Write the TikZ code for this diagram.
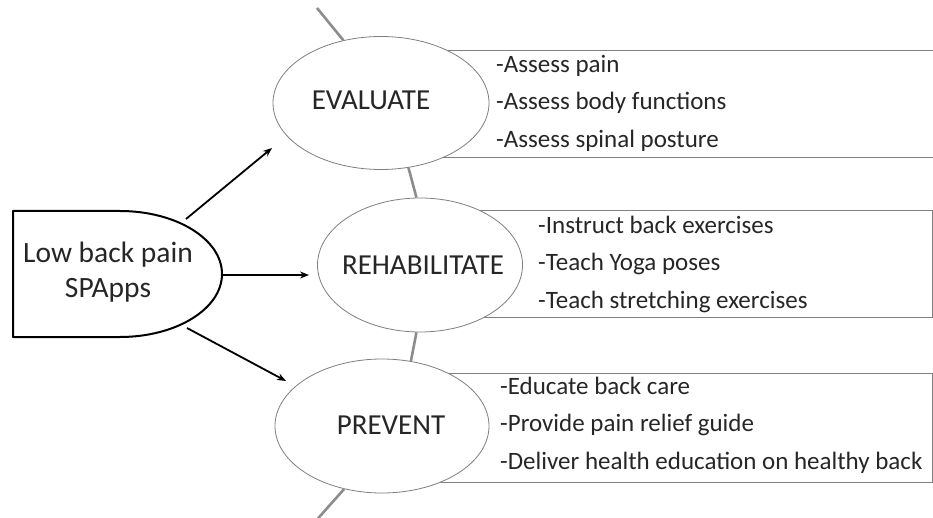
\documentclass[tikz,border=0pt]{standalone}
\usepackage{fontspec}
\setmainfont{Carlito}
\usetikzlibrary{shapes.geometric,arrows.meta}
\definecolor{txt}{HTML}{262626}
\definecolor{ringgray}{HTML}{7F7F7F}
\definecolor{spinegray}{HTML}{8C8C8C}
\definecolor{boxgray}{HTML}{808080}
\begin{document}
\begin{tikzpicture}[x=1pt,y=-1pt,
  oval/.style={ellipse,draw=ringgray,line width=0.8pt,fill=white,inner sep=0pt},
  ovaltext/.style={text=txt,font=\fontsize{29}{35}\selectfont,inner sep=0pt},
  listbox/.style={rectangle,draw=boxgray,line width=1.1pt,anchor=north west,inner sep=0pt},
  listtext/.style={text=txt,font=\fontsize{25}{37.5}\selectfont,align=left,anchor=west,inner sep=0pt},
  spine/.style={draw=spinegray,line width=2.6pt},
  arr/.style={draw=black,line width=1.8pt,-{Stealth[length=9pt,width=7pt]}}]
\useasboundingbox (0,0) rectangle (933,518);
\begin{scope}
\clip (0,0) rectangle (933,518);
% list boxes
\node[listbox,minimum width=520pt,minimum height=107pt] (evbox) at (430,50) {};
\node[listbox,minimum width=452pt,minimum height=107pt] (rhbox) at (480,210) {};
\node[listbox,minimum width=492pt,minimum height=109pt] (pvbox) at (440,373) {};
% ellipses
\node[oval,minimum width=216pt,minimum height=133pt] (ev) at (381,103) {};
\node[oval,minimum width=205pt,minimum height=134pt] (rh) at (420,265) {};
\node[oval,minimum width=214pt,minimum height=134pt] (pv) at (382,426) {};
% spine
\coordinate (spinetop) at (317,8);
\coordinate (spinebot) at (313,524);
\draw[spine] (spinetop) -- (ev.121);
\draw[spine] (ev.-67) -- (rh.93);
\draw[spine] (rh.-93) -- (pv.66);
\draw[spine] (pv.-121) -- (spinebot);
\end{scope}
% ellipse labels
\node[ovaltext] (evt) at (371,100) {EVALUATE};
\node[ovaltext] (rht) at (423,265) {REHABILITATE};
\node[ovaltext] (pvt) at (391,425) {PREVENT};
% list texts
\node[listtext] (evl) at (496,103) {-Assess pain\\-Assess body functions\\-Assess spinal posture};
\node[listtext] (rhl) at (538,264) {-Instruct back exercises\\-Teach Yoga poses\\-Teach stretching exercises};
\node[listtext] (pvl) at (500,425) {-Educate back care\\-Provide pain relief guide\\-Deliver health education on healthy back};
% source shape
\draw[black,line width=2pt,line join=round] (13,211) -- (120,211)
  arc[start angle=-90,end angle=90,x radius=102,y radius=63] -- (13,337) -- cycle;
\node[text=txt,font=\fontsize{29.5}{35}\selectfont,align=center,inner sep=0pt] (src) at (108,272) {Low back pain\\SPApps};
% arrows
\coordinate (a1s) at (186,219);
\coordinate (a1e) at (272,148);
\coordinate (a2s) at (222,275);
\coordinate (a2e) at (309,275);
\coordinate (a3s) at (187,328);
\coordinate (a3e) at (286,381);
\draw[arr] (a1s) -- (a1e);
\draw[arr] (a2s) -- (a2e);
\draw[arr] (a3s) -- (a3e);
\end{tikzpicture}
\end{document}
